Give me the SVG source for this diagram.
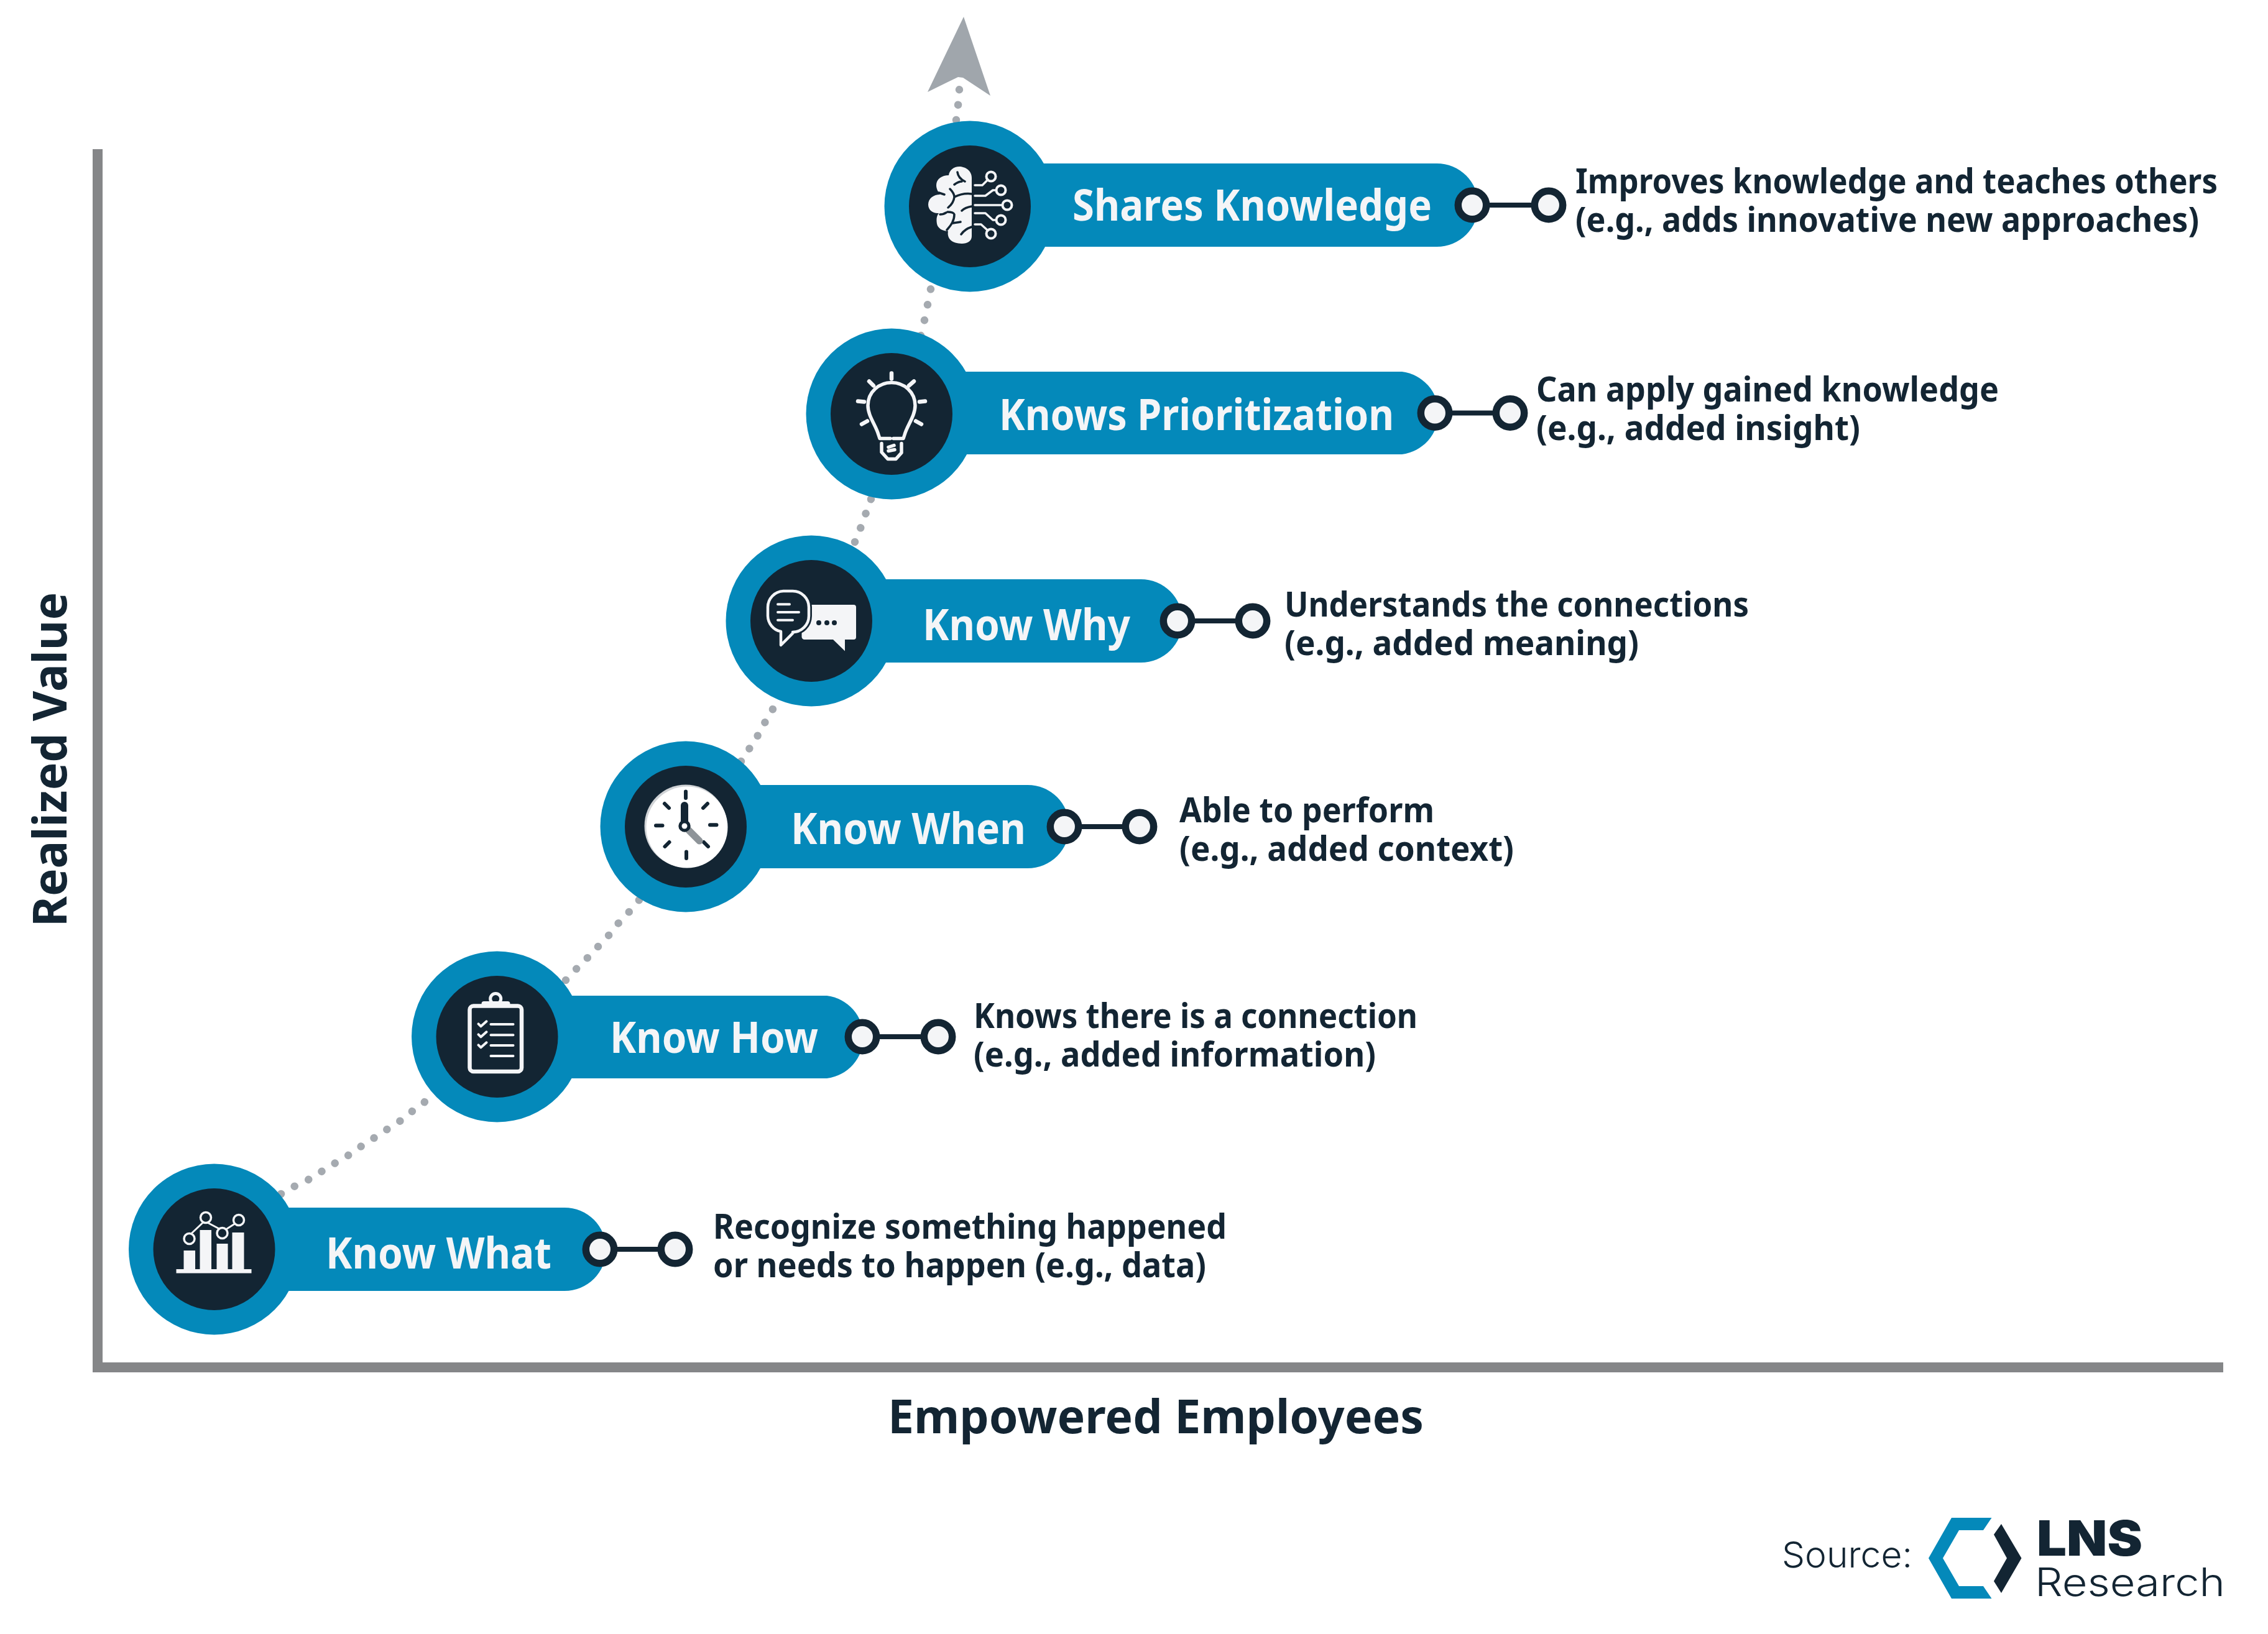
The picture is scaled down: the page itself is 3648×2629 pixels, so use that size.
<svg xmlns="http://www.w3.org/2000/svg" width="3648" height="2629" viewBox="0 0 3648 2629">
<style>
text{font-family:"Noto Sans","Liberation Sans",sans-serif;font-weight:700}
.bar{fill:#0489BA}
.disc{fill:#132533}
.lbl{font-size:70px;fill:#F4F5F7}
.desc{font-size:55px;fill:#132533}
.axt{font-size:76px;fill:#132533}
.port{fill:#F4F5F7;stroke:#132533;stroke-width:11.5}
.link{stroke:#132533;stroke-width:8;fill:none}
.dots{fill:none;stroke:#A5AAB0;stroke-width:12.5;stroke-linecap:round;stroke-dasharray:.002 .998}
.w{fill:#F4F5F7}
.ws{fill:none;stroke:#F4F5F7;stroke-linecap:round;stroke-linejoin:round}
.dk{fill:none;stroke:#132533;stroke-linecap:round;stroke-linejoin:round}
</style>
<rect width="3648" height="2629" fill="#fff"/>
<g id="axes">
<path d="M157 240V2200H3576" fill="none" stroke="#858688" stroke-width="16"/>
<text class="axt" x="1428" y="2306" textLength="862" lengthAdjust="spacingAndGlyphs">Empowered Employees</text>
<text class="axt" transform="translate(107 1491) rotate(-90)" textLength="538" lengthAdjust="spacingAndGlyphs">Realized Value</text>
</g>
<g id="connectors">
<path class="dots" pathLength="11.01" d="M452 1921L473 1909L496 1898L517 1885L538 1872L560 1859L580 1845L601.500 1831L622.600 1817L643 1804L663 1788L683 1773"/>
<path class="dots" pathLength="7.01" d="M910 1577L927 1559L945 1541L962 1523L979 1505L995 1485L1012 1467L1028 1448"/>
<path class="dots" pathLength="4.01" d="M1192 1225L1205 1205L1218 1185L1230 1163L1243 1141"/>
<path class="dots" pathLength="3.01" d="M1375 872L1384 850L1393 825L1401 803"/>
<path class="dots" pathLength="3.01" d="M1481 540L1487 515L1492 490L1497 465"/>
<path class="dots" pathLength="2.01" d="M1538 193L1541 169L1543 144"/>
<polygon id="arrowhead" points="1550,27 1593,154 1549,125 1541,124 1492,148" fill="#A0A6AC"/>
<path class="link" d="M965 2010H1086M1387 1668H1509M1712 1330H1833M1894 999H2015M2308 664.500H2429M2368 330H2491"/>
</g>

<g id="node-know-what">
<circle class="bar" cx="344.500" cy="2010" r="137.500"/><path class="bar" d="M400 1943H908a67 67 0 0 1 0 134H400z"/>
<circle class="disc" cx="344.500" cy="2010" r="98"/>
<g transform="translate(344.500 2010)">
<rect class="w" x="-61" y="32" width="121" height="6.500"/>
<rect class="w" x="-49" y="2" width="18.500" height="31"/><rect class="w" x="-23" y="-31" width="18.500" height="64"/><rect class="w" x="4" y="-9" width="18" height="42"/><rect class="w" x="29" y="-27" width="19" height="60"/>
<path class="ws" stroke-width="3" d="M-36 -26L-17 -44M-9 -42L8 -33M19 -32L33 -41" stroke-linecap="butt"/>
<g class="ws" stroke-width="3.500"><circle cx="-40" cy="-17" r="8.500" fill="#132533"/><circle cx="-13.500" cy="-51" r="8.500" fill="#132533"/><circle cx="13" cy="-26" r="8.500" fill="#132533"/><circle cx="39.500" cy="-47" r="8.500" fill="#132533"/></g>
</g>
<text class="lbl" x="524" y="2041" textLength="363" lengthAdjust="spacingAndGlyphs">Know What</text>
<circle class="port" cx="965" cy="2010" r="22.700"/><circle class="port" cx="1086" cy="2010" r="22.700"/>
<text class="desc" x="1147" y="1993" textLength="826" lengthAdjust="spacingAndGlyphs">Recognize something happened</text>
<text class="desc" x="1147" y="2055" textLength="793" lengthAdjust="spacingAndGlyphs">or needs to happen (e.g., data)</text>
</g>

<g id="node-know-how">
<circle class="bar" cx="799.500" cy="1668" r="137.500"/><path class="bar" d="M855 1602H1330a67 67 0 0 1 0 133H855z"/>
<circle class="disc" cx="799.500" cy="1668" r="98"/>
<g transform="translate(799.500 1668)">
<circle class="ws" cx="-2.300" cy="-61" r="8.500" stroke-width="5"/>
<rect class="ws" x="-44" y="-49.500" width="83.500" height="105.500" rx="6" stroke-width="6.500"/>
<rect class="w" x="-25" y="-57" width="46" height="8" rx="4"/>
<path class="ws" stroke-width="4" stroke-linecap="butt" d="M-10 -20H26M-10 -2.700H26M-10 14H26M-10 31H26"/>
<path class="ws" stroke-width="4" d="M-30 -20.700L-26 -16.700L-17 -24.700M-30 -3.700L-26 .300L-17 -7.700M-30 13.300L-26 17.300L-17 9.300"/>
</g>
<text class="lbl" x="981" y="1694" textLength="335" lengthAdjust="spacingAndGlyphs">Know How</text>
<circle class="port" cx="1387" cy="1668" r="22.700"/><circle class="port" cx="1509" cy="1668" r="22.700"/>
<text class="desc" x="1566" y="1654" textLength="714" lengthAdjust="spacingAndGlyphs">Knows there is a connection</text>
<text class="desc" x="1566" y="1716" textLength="647" lengthAdjust="spacingAndGlyphs">(e.g., added information)</text>
</g>

<g id="node-know-when">
<circle class="bar" cx="1103" cy="1330" r="137.500"/><path class="bar" d="M1160 1263H1653a67 67 0 0 1 0 134H1160z"/>
<circle class="disc" cx="1103" cy="1330" r="98"/>
<g transform="translate(1103 1330)">
<circle cx="0" cy="-1" r="66.500" fill="#D0D3D6"/><circle cx="2" cy="1" r="65.500" fill="#fff"/>
<path class="dk" stroke-linecap="butt" stroke-width="6" d="M0 -56.500V-46M49.500 -2.700H39M1 40.500V51M-48 -1.700H-37.500M-34 -37L-27 -30M35 -37L28 -30M36 32L29 25M-33.500 32L-26.500 25"/>
<path fill="none" stroke="#8E9499" stroke-width="11" stroke-linecap="round" d="M-2 -1L22 23"/>
<path class="dk" stroke-width="12" d="M-2 -1V-34"/>
<circle cx="-2" cy="-1" r="9.700" fill="#132533"/><circle cx="-2" cy="-1" r="4.500" fill="#fff"/>
</g>
<text class="lbl" x="1272" y="1358" textLength="378" lengthAdjust="spacingAndGlyphs">Know When</text>
<circle class="port" cx="1712" cy="1330" r="22.700"/><circle class="port" cx="1833" cy="1330" r="22.700"/>
<text class="desc" x="1897" y="1323" textLength="410" lengthAdjust="spacingAndGlyphs">Able to perform</text>
<text class="desc" x="1897" y="1385" textLength="538" lengthAdjust="spacingAndGlyphs">(e.g., added context)</text>
</g>

<g id="node-know-why">
<circle class="bar" cx="1305" cy="999" r="137.500"/><path class="bar" d="M1360 932H1835a67 67 0 0 1 0 134H1360z"/>
<circle class="disc" cx="1305" cy="999" r="98"/>
<g transform="translate(1305 999)">
<path class="w" d="M-15.500 -26H68a4 4 0 0 1 4 4V26a4 4 0 0 1 -4 4H54V48.500L35 30H-11a4.500 4.500 0 0 1 -4.500 -4.500Z"/>
<path id="bubble" d="M-45 -48H-30A26 26 0 0 1 -4 -22V-8A26 26 0 0 1 -30 18H-28L-49 39V17A26 26 0 0 1 -70 -8V-22A26 26 0 0 1 -45 -48Z" fill="#132533" stroke="#132533" stroke-width="10" stroke-linejoin="round"/>
<path class="ws" stroke-width="4.500" fill="none" d="M-45 -48H-30A26 26 0 0 1 -4 -22V-8A26 26 0 0 1 -30 18H-28L-49 39V17A26 26 0 0 1 -70 -8V-22A26 26 0 0 1 -45 -48Z"/>
<path class="ws" stroke-width="4" d="M-54 -26.700H-35M-54 -14H-20M-54 -1.300H-30"/>
<g fill="#132533"><circle cx="12" cy="3" r="4"/><circle cx="25" cy="3" r="4"/><circle cx="37" cy="3" r="4"/></g>
</g>
<text class="lbl" x="1484" y="1030" textLength="334" lengthAdjust="spacingAndGlyphs">Know Why</text>
<circle class="port" cx="1894" cy="999" r="22.700"/><circle class="port" cx="2015" cy="999" r="22.700"/>
<text class="desc" x="2066" y="992" textLength="747" lengthAdjust="spacingAndGlyphs">Understands the connections</text>
<text class="desc" x="2066" y="1054" textLength="570" lengthAdjust="spacingAndGlyphs">(e.g., added meaning)</text>
</g>

<g id="node-knows-prioritization">
<circle class="bar" cx="1434" cy="666" r="137.500"/><path class="bar" d="M1490 598H2255a67 67 0 0 1 0 133H1490z"/>
<circle class="disc" cx="1434" cy="666" r="98"/>
<g transform="translate(1434 666.500)">
<path class="ws" stroke-width="5.500" d="M-2 39H-19L-21 33C-25 18 -38 3 -38 -14C-38 -36 -20 -51 0 -51C20 -51 38 -36 38 -14C38 3 25 18 21 33L19 39H3M-16 47V61L-6 72H7L16 62V47M-5 53L4 50M-5 59L5 57"/>
<path class="ws" stroke-width="6.500" d="M0 -66V-57M-36 -53L-29 -46M36 -53L28 -46M-54 -21L-44 -20M54 -21L45 -20M-48 16L-39 11M48 16L39 11"/>
</g>
<text class="lbl" x="1607" y="692" textLength="635" lengthAdjust="spacingAndGlyphs">Knows Prioritization</text>
<circle class="port" cx="2308" cy="664.500" r="22.700"/><circle class="port" cx="2429" cy="664.500" r="22.700"/>
<text class="desc" x="2471" y="646" textLength="744" lengthAdjust="spacingAndGlyphs">Can apply gained knowledge</text>
<text class="desc" x="2471" y="708" textLength="521" lengthAdjust="spacingAndGlyphs">(e.g., added insight)</text>
</g>

<g id="node-shares-knowledge">
<circle class="bar" cx="1560" cy="332" r="137.500"/><path class="bar" d="M1615 263H2311a67 67 0 0 1 0 134H1615z"/>
<circle class="disc" cx="1560" cy="332" r="98"/>
<g transform="translate(1560 332)">
<path class="w" d="M3 -46C3 -58 -8 -64 -17 -64C-26 -64 -33 -58 -34 -50C-45 -50 -54 -44 -54 -34C-54 -28 -51 -23 -48 -19C-58 -19 -67 -13 -67 -3C-67 6 -59 12 -50 11C-54 16 -54 22 -53 28C-52 35 -44 40 -35 40C-37 50 -31 60 -13 60C-4 60 3 56 3 48Z"/>
<path class="dk" stroke-width="3.500" d="M-20 -55C-19 -47 -14 -43 -8 -40M-25 -35C-21 -38 -17 -40 -13 -40M-50 -22C-47 -21 -44 -20 -41 -19M-32 -28C-28 -24 -25 -20 -25 -15C-26 -7 -30 -2 -35 2M-25 -15C-15 -20 -5 -21 3 -20M-13 7C-9 3 -3 1 3 0M-48 13C-44 13 -41 12 -38 10M-36 9C-30 9 -26 10 -25 13C-25 23 -30 30 -37 38M-27 27C-23 26 -19 26 -15 25M-14 45C-10 39 -3 35 3 33"/>
<path class="ws" stroke-width="3.500" stroke-linecap="butt" d="M8 -34H20L29 -43M8 -17H25L37 -26H42M8 -2H52M8 11H25L37 22H42M8 29H18L29 39"/>
<g class="ws" stroke-width="4"><circle cx="34" cy="-48" r="7.500"/><circle cx="50" cy="-26" r="7.500"/><circle cx="60" cy="-2" r="7.500"/><circle cx="50" cy="22" r="7.500"/><circle cx="34" cy="44" r="7.500"/></g>
</g>
<text class="lbl" x="1725" y="355" textLength="578" lengthAdjust="spacingAndGlyphs">Shares Knowledge</text>
<circle class="port" cx="2368" cy="330" r="22.700"/><circle class="port" cx="2491" cy="330" r="22.700"/>
<text class="desc" x="2534" y="311" textLength="1033" lengthAdjust="spacingAndGlyphs">Improves knowledge and teaches others</text>
<text class="desc" x="2534" y="373" textLength="1003" lengthAdjust="spacingAndGlyphs">(e.g., adds innovative new approaches)</text>
</g>

<g id="source-logo">
<text x="2866" y="2522" font-size="58" fill="#132533" style="font-family:Inter,'Liberation Sans',sans-serif;font-weight:300" textLength="210" lengthAdjust="spacingAndGlyphs">Source:</text>
<polygon points="3139,2442 3203.500,2442 3190,2462 3151,2462 3125,2507 3151,2552 3190,2552 3203.500,2572 3139,2572 3102,2507" fill="#0489BA"/>
<polygon points="3219,2452 3251.500,2507 3219,2563 3207,2544 3228,2507 3207,2469" fill="#132533"/>
<text x="3276" y="2503" font-size="78" fill="#132533" style="font-family:Inter,'Liberation Sans',sans-serif;font-weight:900" textLength="170" lengthAdjust="spacingAndGlyphs">LNS</text>
<text x="3273" y="2568" font-size="63" fill="#132533" style="font-family:Inter,'Liberation Sans',sans-serif;font-weight:300" textLength="306" lengthAdjust="spacingAndGlyphs">Research</text>
</g>
</svg>
